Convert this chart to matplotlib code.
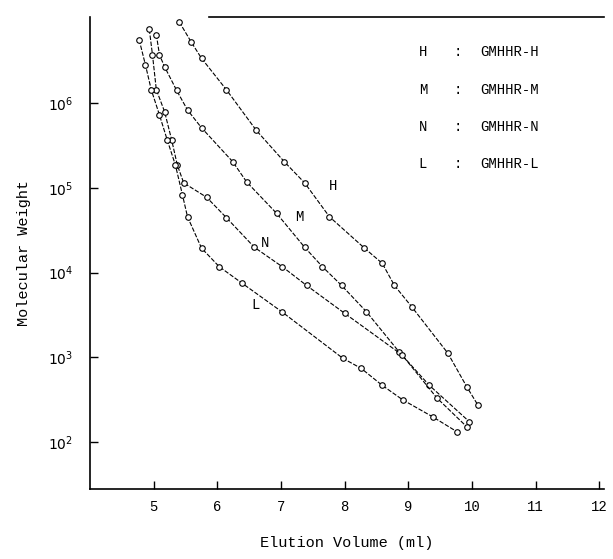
import numpy as np
import matplotlib
matplotlib.use("Agg")
import matplotlib.pyplot as plt

# GPC calibration curves (elution volume in ml, log10 molecular weight)
h_vol = [5.40, 5.59, 5.75, 6.14, 6.61, 7.05, 7.37, 7.76, 8.31, 8.59, 8.78, 9.05, 9.62, 9.92, 10.09]
h_logm = [6.96, 6.72, 6.53, 6.16, 5.68, 5.31, 5.06, 4.66, 4.29, 4.11, 3.85, 3.60, 3.05, 2.65, 2.44]

m_vol = [5.04, 5.09, 5.17, 5.36, 5.53, 5.75, 6.24, 6.46, 6.93, 7.37, 7.65, 7.95, 8.34, 8.86, 9.33, 9.96]
m_logm = [6.81, 6.57, 6.43, 6.15, 5.92, 5.71, 5.31, 5.07, 4.70, 4.30, 4.07, 3.85, 3.54, 3.06, 2.67, 2.24]

n_vol = [4.93, 4.98, 5.04, 5.17, 5.28, 5.37, 5.47, 5.83, 6.14, 6.58, 7.02, 7.40, 8.00, 8.90, 9.45, 9.92]
n_logm = [6.87, 6.57, 6.16, 5.90, 5.57, 5.27, 5.06, 4.89, 4.65, 4.30, 4.07, 3.85, 3.52, 3.03, 2.52, 2.18]

l_vol = [4.77, 4.87, 4.96, 5.09, 5.21, 5.34, 5.45, 5.53, 5.75, 6.03, 6.38, 7.01, 7.97, 8.26, 8.59, 8.91, 9.38, 9.77]
l_logm = [6.75, 6.45, 6.16, 5.86, 5.57, 5.27, 4.92, 4.66, 4.29, 4.07, 3.88, 3.54, 2.99, 2.87, 2.67, 2.50, 2.30, 2.12]

curve_names = ["H", "M", "N", "L"]
column_names = ["GMHHR-H", "GMHHR-M", "GMHHR-N", "GMHHR-L"]
x_ticks = [5, 6, 7, 8, 9, 10, 11, 12]
y_ticks = [1e2, 1e3, 1e4, 1e5, 1e6]
y_tick_labels = ["$10^2$", "$10^3$", "$10^4$", "$10^5$", "$10^6$"]

mono = "Liberation Mono"

fig = plt.figure(figsize=(6.13, 5.59), dpi=100)
ax = fig.add_axes([0.147, 0.125, 0.838, 0.845])

curves = [(h_vol, h_logm), (m_vol, m_logm), (n_vol, n_logm), (l_vol, l_logm)]
for vol, logm in curves:
    ax.plot(vol, 10 ** np.array(logm), color="black", lw=0.8,
            linestyle=(0, (4, 1.5)), marker="o", markersize=4,
            markerfacecolor="white", markeredgecolor="black", markeredgewidth=0.8)

# curve labels next to the lines
label_pos = {"H": (7.81, 5.02), "M": (7.29, 4.66), "N": (6.75, 4.35), "L": (6.60, 3.62)}
for name in curve_names:
    lx, ly = label_pos[name]
    ax.text(lx, 10 ** ly, name, fontsize=10, family=mono, ha="center", va="center")

ax.set_yscale("log")
ax.set_xlim(4.0, 12.07)
ax.set_ylim(10 ** 1.446, 10 ** 7.02)
ax.set_xticks(x_ticks)
ax.set_xticklabels([str(t) for t in x_ticks], family=mono, fontsize=10)
ax.set_yticks(y_ticks)
ax.set_yticklabels(y_tick_labels, family=mono, fontsize=10)
ax.yaxis.set_minor_locator(matplotlib.ticker.NullLocator())
ax.tick_params(direction="in", length=6, width=1)
ax.tick_params(axis="x", pad=8)
ax.tick_params(axis="y", pad=12)

ax.spines["right"].set_visible(False)
ax.spines["top"].set_bounds(5.87, 12.07)
for s in ax.spines.values():
    s.set_linewidth(1.2)

ax.set_xlabel("Elution Volume (ml)", family=mono, fontsize=11, labelpad=16)
ax.set_ylabel("Molecular Weight", family=mono, fontsize=11, labelpad=12)

# legend drawn as plain text rows
for i, (name, col) in enumerate(zip(curve_names, column_names)):
    y = 1 - (52 + i * 37.5) / 559
    fig.text(423 / 613, y, name, family=mono, fontsize=10, ha="center", va="center")
    fig.text(458 / 613, y, ":", family=mono, fontsize=10, ha="center", va="center")
    fig.text(480 / 613, y, col, family=mono, fontsize=10, ha="left", va="center")

fig.savefig("out.png", dpi=100)
